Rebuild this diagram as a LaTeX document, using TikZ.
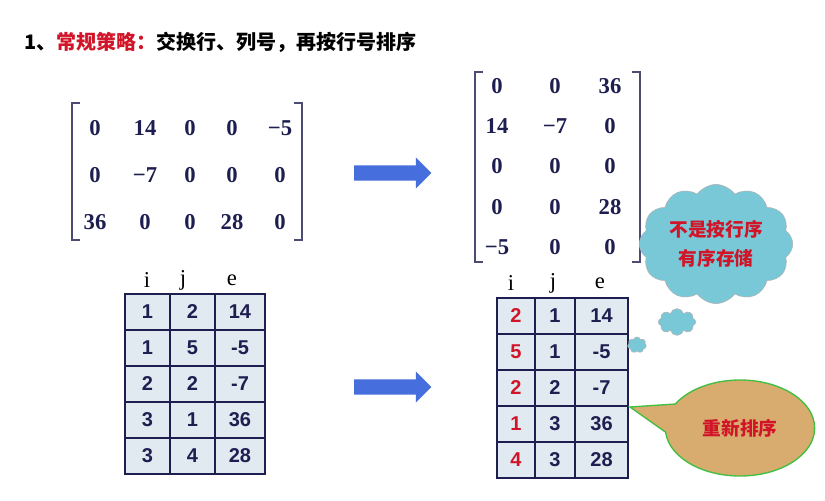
\documentclass[tikz,border=0pt]{standalone}
\usepackage{fontspec}
\setmainfont{Liberation Serif}
\setsansfont{Liberation Sans}
\newfontfamily\cjk{Noto Sans CJK SC}
\usetikzlibrary{positioning, arrows.meta, shapes.symbols, shapes.arrows, shapes.geometric}
\definecolor{navy}{RGB}{30,30,80}
\definecolor{cellbg}{RGB}{224,234,240}
\definecolor{redtxt}{RGB}{210,20,40}
\definecolor{cloudbg}{RGB}{120,200,215}
\definecolor{ovalbg}{RGB}{215,172,110}
\definecolor{arrowbl}{RGB}{70,110,220}
\tikzset{
  entry/.style={font=\bfseries\fontsize{17}{17}\selectfont, text=navy},
  cell/.style={ % one box of a triple table
    rectangle, draw=navy, line width=1.4pt, fill=cellbg,
    minimum height=27pt, inner sep=0pt,
    font=\sffamily\bfseries\fontsize{15}{15}\selectfont, text=navy
  },
  head/.style={font=\fontsize{17}{17}\selectfont},
  bracket/.style={line width=1.2pt, draw=navy!80},
  bigarrow/.style={single arrow, fill=arrowbl, draw=none, text height=0pt, text depth=0pt,
    inner ysep=5.5pt, inner xsep=0pt, single arrow head extend=6pt, minimum height=58pt},
}
\begin{document}
\begin{tikzpicture}[x=0.75pt, y=-0.75pt]
  \useasboundingbox (0,0) rectangle (825,500);
  \fill[white] (0,0) rectangle (825,500);
  % title
  \node[anchor=west, font=\cjk\bfseries\fontsize{15}{15}\selectfont] (title) at (20,42)
    {1、{\color{redtxt}常规策略：}交换行、列号，再按行号排序};
  % left matrix
  \draw[bracket] (80,103) -- (72,103) -- (72,240) -- (80,240);
  \draw[bracket] (294,103) -- (302,103) -- (302,240) -- (294,240);
  \foreach \r/\y in {1/128, 2/175, 3/222}{
    \foreach \c/\x in {1/95, 2/145, 3/190, 4/232, 5/280}
      \coordinate (m\r\c) at (\x,\y);
  }
  \foreach \pos/\v in {m11/0, m12/14, m13/0, m14/0, m15/−5,
                       m21/0, m22/−7, m23/0, m24/0, m25/0,
                       m31/36, m32/0, m33/0, m34/28, m35/0}
    \node[entry] at (\pos) {\v};
  % right matrix
  \draw[bracket] (483,72) -- (475,72) -- (475,262) -- (483,262);
  \draw[bracket] (632,72) -- (640,72) -- (640,262) -- (632,262);
  \foreach \r/\y in {1/86, 2/126, 3/166, 4/207, 5/247}{
    \foreach \c/\x in {1/497, 2/555, 3/610}
      \coordinate (t\r\c) at (\x,\y);
  }
  \foreach \pos/\v in {t11/0, t12/0, t13/36, t21/14, t22/−7, t23/0,
                       t31/0, t32/0, t33/0, t41/0, t42/0, t43/28,
                       t51/−5, t52/0, t53/0}
    \node[entry] at (\pos) {\v};
  % arrows
  \node[bigarrow] (arr1) at (389,173) {};
  \node[bigarrow] (arr2) at (389,387) {};
  % left triple table
  \foreach \x/\h in {147/i, 183/j, 232/e}
    \node[head] (lh\h) at (\x,280) {\h};
  \foreach \r/\a/\b/\c in {1/1/2/14, 2/1/5/-5, 3/2/2/-7, 4/3/1/36, 5/3/4/28}{
    \node[cell, minimum width=33.75pt] (la\r) at (147.5,276+36*\r) {\a};
    \node[cell, minimum width=33.75pt] (lb\r) at (192.5,276+36*\r) {\b};
    \node[cell, minimum width=37.5pt] (lc\r) at (240,276+36*\r) {\c};
  }
  % right triple table
  \foreach \x/\h in {511/i, 553/j, 600/e}
    \node[head] (rh\h) at (\x,283) {\h};
  \foreach \r/\a/\b/\c in {1/2/1/14, 2/5/1/-5, 3/2/2/-7, 4/1/3/36, 5/4/3/28}{
    \node[cell, minimum width=28.5pt, text=redtxt] (ra\r) at (516,280+36*\r) {\a};
    \node[cell, minimum width=30pt] (rb\r) at (555,280+36*\r) {\b};
    \node[cell, minimum width=39.75pt] (rc\r) at (601.5,280+36*\r) {\c};
  }
  % thought cloud
  \node[cloud, cloud puffs=12, cloud puff arc=110, aspect=1.4, fill=cloudbg, draw=gray!60,
    minimum width=108pt, minimum height=82pt, align=center,
    font=\cjk\bfseries\fontsize{14}{22}\selectfont, text=redtxt] (think) at (716,244)
    {不是按行序\\有序存储};
  \node[cloud, cloud puffs=8, fill=cloudbg, draw=gray!60, minimum width=28pt,
    minimum height=20pt] (puff1) at (677,322) {};
  \node[cloud, cloud puffs=7, fill=cloudbg, draw=gray!60, minimum width=14pt,
    minimum height=12pt] (puff2) at (637,345) {};
  % speech bubble
  \coordinate (tip) at (630,407);
  \coordinate (say) at (740,428);
  \fill[ovalbg, draw=green!50!gray, line width=1pt]
    (tip) -- ([shift={(185:56pt and 36pt)}]say)
    arc[start angle=185, end angle=510, x radius=56pt, y radius=36pt] -- cycle;
  \node[font=\cjk\bfseries\fontsize{14}{14}\selectfont, text=redtxt] (saytxt) at (say) {重新排序};
\end{tikzpicture}
\end{document}
